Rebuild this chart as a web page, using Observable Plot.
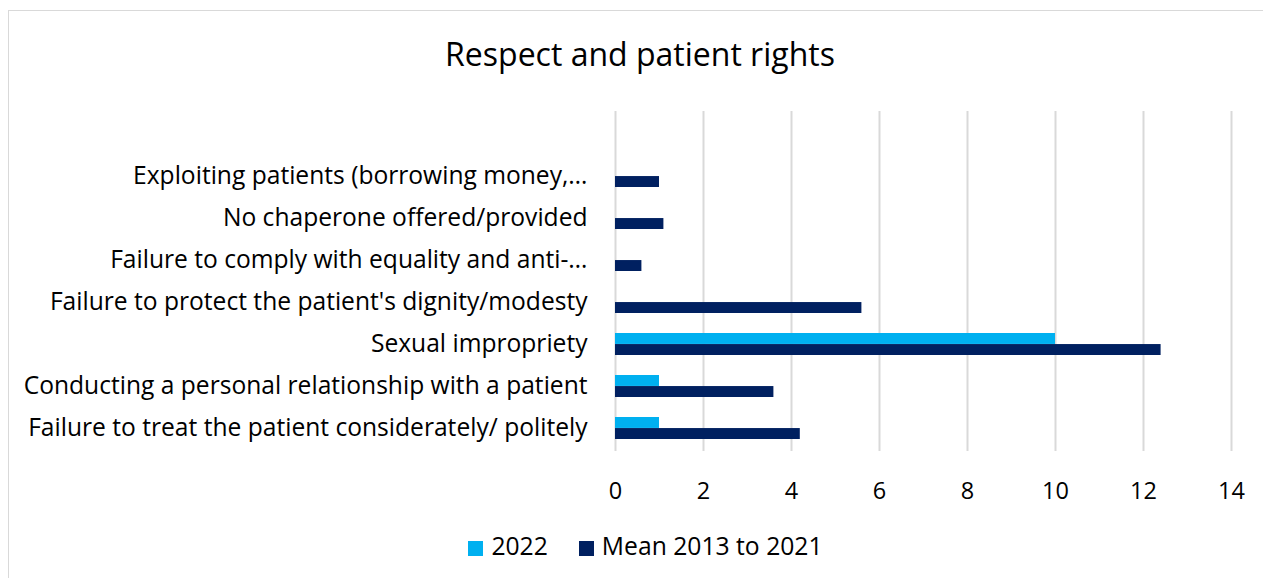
<!DOCTYPE html>
<html>
<head>
<meta charset="utf-8">
<script src="https://cdn.jsdelivr.net/npm/d3@7"></script>
<script src="https://cdn.jsdelivr.net/npm/@observablehq/plot@0.6"></script>
<style>
  html, body { margin: 0; padding: 0; background: #fff; }
  body { width: 1263px; height: 578px; overflow: hidden; position: relative; font-family: "Open Sans", sans-serif; color: #000; }
  .frame { position: absolute; left: 8px; top: 10px; width: 1270px; height: 600px; border: 1.5px solid #d9d9d9; box-sizing: border-box; }
  #title { position: relative; margin-top: 35px; height: 38px; line-height: 38px; text-align: center; font-size: 32px; padding-left: 17px; }
  #chart { position: relative; height: 438px; }
  #legend { position: relative; margin-top: 20px; height: 30px; line-height: 30px; display: flex; justify-content: center; gap: 31px; font-size: 24.7px; padding-left: 28px; }
  #legend span.sw { display: inline-block; width: 15px; height: 15px; margin-right: 8px; vertical-align: -1px; }
</style>
</head>
<body>
<div class="frame"></div>
<div id="title">Respect and patient rights</div>
<div id="chart"></div>
<div id="legend"></div>
<script>
const categories = [
  "",
  "Exploiting patients (borrowing money,…",
  "No chaperone offered/provided",
  "Failure to comply with equality and anti-…",
  "Failure to protect the patient's dignity/modesty",
  "Sexual impropriety",
  "Conducting a personal relationship with a patient",
  "Failure to treat the patient considerately/ politely"
];
const seriesNames = ["2022", "Mean 2013 to 2021"];
const values2022 = [0, 0, 0, 0, 0, 10, 1, 1];
const valuesMean = [0, 1.0, 1.1, 0.6, 5.6, 12.4, 3.6, 4.2];
const xTicks = [0, 2, 4, 6, 8, 10, 12, 14];
const colors = ["#00B0F0", "#002060"];

const rows2022 = categories.map((c, i) => ({category: c, value: values2022[i]})).filter(d => d.category !== "");
const rowsMean = categories.map((c, i) => ({category: c, value: valuesMean[i]})).filter(d => d.category !== "");

const chart = Plot.plot({
  width: 1263,
  height: 438,
  marginLeft: 615,
  marginRight: 32,
  marginTop: 38,
  marginBottom: 60,
  style: { fontFamily: "'Open Sans', sans-serif", fontSize: "24px", color: "#000", background: "transparent", overflow: "visible" },
  x: { domain: [0, 14], ticks: xTicks, tickSize: 0, label: null },
  y: { domain: categories, paddingInner: 0.48, paddingOuter: 0.24, tickSize: 0, label: null },
  marks: [
    Plot.ruleX(xTicks, { stroke: "#d9d9d9", strokeWidth: 2 }),
    Plot.barX(rows2022, { y: "category", x: "value", fill: colors[0], insetBottom: 11.05 }),
    Plot.barX(rowsMean, { y: "category", x: "value", fill: colors[1], insetTop: 11.05 }),
    Plot.axisX({ ticks: xTicks, tickSize: 0, tickPadding: 31, fontSize: "23.5px" }),
    Plot.axisY({ tickSize: 0, tickPadding: 28, fontSize: "24.6px" })
  ]
});
document.getElementById("chart").appendChild(chart);

const legend = document.getElementById("legend");
seriesNames.forEach((name, i) => {
  const item = document.createElement("div");
  item.innerHTML = `<span class="sw" style="background:${colors[i]}"></span>${name}`;
  legend.appendChild(item);
});
</script>
</body>
</html>
